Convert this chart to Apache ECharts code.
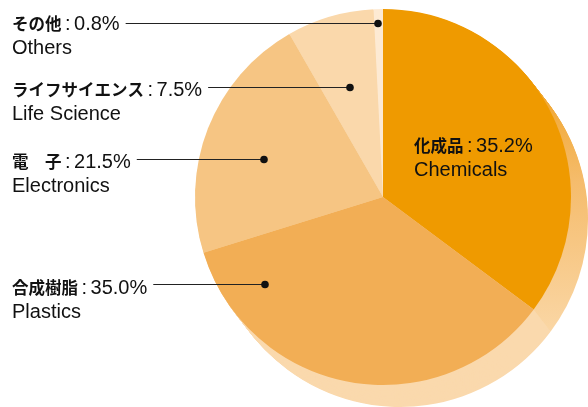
<!DOCTYPE html>
<html><head><meta charset="utf-8">
<script src="https://cdn.jsdelivr.net/npm/echarts@6/dist/echarts.min.js"></script>
<style>html,body{margin:0;padding:0;background:#fff}#c{width:588px;height:407px}</style>
</head><body><div id="c"></div>
<script>
// ---- data ----
const categoriesJa = ['化成品', '合成樹脂', '電　子', 'ライフサイエンス', 'その他'];
const categoriesEn = ['Chemicals', 'Plastics', 'Electronics', 'Life Science', 'Others'];
const shares = [35.2, 35.0, 21.5, 7.5, 0.8];

// ---- style / layout ----
const topColors = ['#EF9A00', '#F2AE55', '#F6C583', '#FAD8AB', '#FDEAD3'];
const sideColors = [
  {type:'linear', x:0, y:60, x2:0, y2:330, global:true,
   colorStops:[{offset:0,color:'#F0A01C'},{offset:0.45,color:'#F5BC6C'},{offset:1,color:'#FAD6A4'}]},
  '#FAD9AD', '#F5CC95', '#FAD8AB', '#FDEAD3'
];
const CX = 383, CY = 197, R = 188, DX = 17, DY = 22, LAYERS = 30;
const JP_FONT = '"Noto Sans CJK JP"', EN_FONT = '"Liberation Sans", Arial, sans-serif';
const JP_SIZE = 16.5, NUM_SIZE = 20, EN_SIZE = 20, LH = 24, COLON_PAD = 3.5;
const labelPos = [
  {x: 414, y: 134, line: false},
  {x: 12, y: 276, line: true, lineY: 284.5, dotX: 265},
  {x: 12, y: 150, line: true, lineY: 159.5, dotX: 264},
  {x: 12, y: 78, line: true, lineY: 87.5, dotX: 350},
  {x: 12, y: 12, line: true, lineY: 23.5, dotX: 378}
];

const fmt = v => v.toFixed(1) + '%';
const cv = document.createElement('canvas').getContext('2d');
function firstLineWidth(i) {
  cv.font = 'bold ' + JP_SIZE + 'px ' + JP_FONT;
  let w = cv.measureText(categoriesJa[i]).width;
  cv.font = NUM_SIZE + 'px ' + EN_FONT;
  w += cv.measureText(':').width + 2 * COLON_PAD + cv.measureText(fmt(shares[i])).width;
  return w;
}

const pieData = shares.map((v, i) => ({
  value: v, name: categoriesEn[i], itemStyle: {color: topColors[i]}
}));

const series = [];
for (let k = LAYERS; k >= 1; k--) {
  const t = k / LAYERS;
  series.push({
    type: 'pie', silent: true, animation: false, z: 1,
    center: [CX + DX * t, CY + DY * t], radius: R,
    startAngle: 90, clockwise: true,
    label: {show: false}, labelLine: {show: false},
    data: shares.map((v, i) => ({value: v, name: categoriesEn[i], itemStyle: {color: sideColors[i]}}))
  });
}
series.push({
  type: 'pie', animation: false, z: 2, silent: true,
  center: [CX, CY], radius: R, startAngle: 90, clockwise: true,
  avoidLabelOverlap: false, minShowLabelAngle: 0,
  label: {
    show: true, position: 'outside',
    formatter: p => '{jp|' + categoriesJa[p.dataIndex] + '}{colon|:}{num|' + fmt(shares[p.dataIndex]) + '}\n{en|' + categoriesEn[p.dataIndex] + '}',
    rich: {
      jp: {fontFamily: JP_FONT, fontSize: JP_SIZE, fontWeight: 'bold', color: '#111', lineHeight: LH},
      colon: {fontFamily: EN_FONT, fontSize: NUM_SIZE, color: '#111', lineHeight: LH, padding: [0, COLON_PAD, 0, COLON_PAD]},
      num: {fontFamily: EN_FONT, fontSize: NUM_SIZE, color: '#111', lineHeight: LH},
      en: {fontFamily: EN_FONT, fontSize: EN_SIZE, color: '#111', lineHeight: LH}
    }
  },
  labelLine: {show: false},
  labelLayout: function (params) {
    const L = labelPos[params.dataIndex];
    return {x: L.x, y: L.y, align: 'left', verticalAlign: 'top'};
  },
  data: pieData
});

const graphics = [];
labelPos.forEach((L, i) => {
  if (!L.line) return;
  const sx = L.x + firstLineWidth(i) + 6;
  graphics.push({type: 'line', z: 100, shape: {x1: sx, y1: L.lineY, x2: L.dotX, y2: L.lineY},
                 style: {stroke: '#222', lineWidth: 1}});
  graphics.push({type: 'circle', z: 101, shape: {cx: L.dotX, cy: L.lineY, r: 3.8}, style: {fill: '#111'}});
});

const chart = echarts.init(document.getElementById('c'), null, {renderer: 'canvas'});
chart.setOption({animation: false, series: series, graphic: graphics});
</script></body></html>
